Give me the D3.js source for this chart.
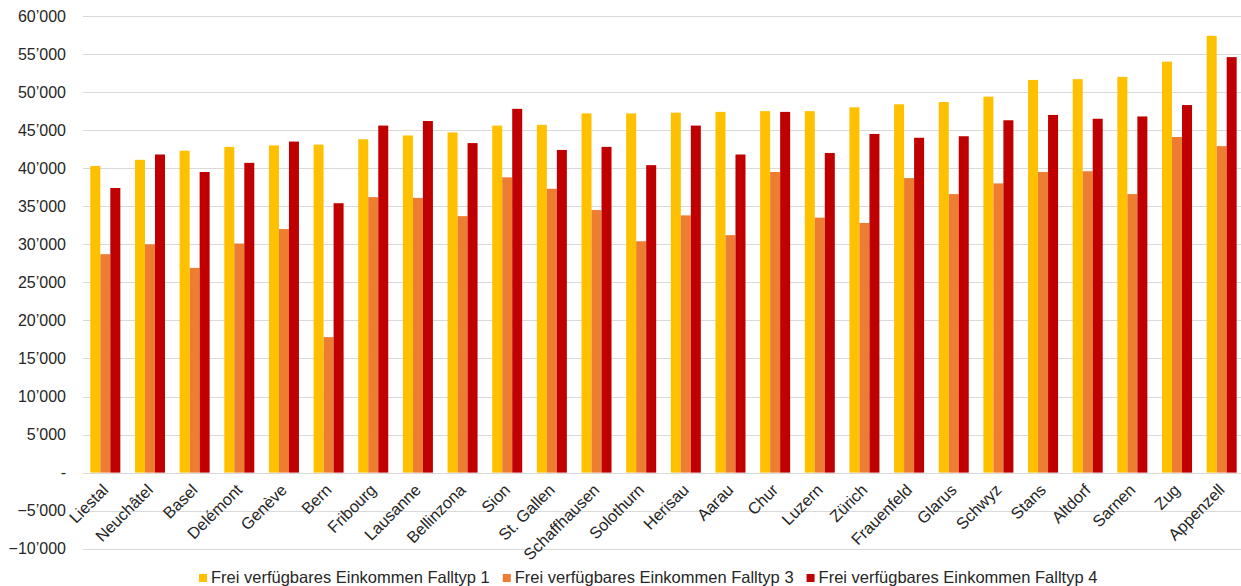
<!DOCTYPE html>
<html><head><meta charset="utf-8">
<script src="https://cdn.jsdelivr.net/npm/d3@7/dist/d3.min.js"></script>
<style>body{margin:0;background:#fff}svg{display:block;font-family:"Liberation Sans",Arial,sans-serif}</style>
</head><body><svg id="c" width="1241" height="586"></svg>
<script>
const categories = ["Liestal","Neuchâtel","Basel","Delémont","Genève","Bern","Fribourg","Lausanne","Bellinzona","Sion","St. Gallen","Schaffhausen","Solothurn","Herisau","Aarau","Chur","Luzern","Zürich","Frauenfeld","Glarus","Schwyz","Stans","Altdorf","Sarnen","Zug","Appenzell"];
const falltyp1 = [40300,41100,42300,42800,43000,43100,43800,44300,44700,45600,45700,47200,47200,47300,47400,47500,47500,48000,48400,48700,49400,51600,51700,52000,54000,57400];
const falltyp3 = [28700,30000,26900,30100,32000,17800,36200,36100,33700,38800,37300,34500,30400,33800,31200,39500,33500,32800,38700,36600,38000,39500,39600,36600,44100,42900];
const falltyp4 = [37400,41800,39500,40700,43500,35400,45600,46200,43300,47800,42400,42800,40400,45600,41800,47400,42000,44500,44000,44200,46300,47000,46500,46800,48300,54600];
const seriesNames = ["Frei verfügbares Einkommen Falltyp 1","Frei verfügbares Einkommen Falltyp 3","Frei verfügbares Einkommen Falltyp 4"];
const colors = ["#FFC000","#ED7D31","#C00000"];
const yTicks = [-10000,-5000,0,5000,10000,15000,20000,25000,30000,35000,40000,45000,50000,55000,60000];

const svg = d3.select("#c");
const series = [falltyp1, falltyp3, falltyp4];
const x = d3.scaleBand().domain(categories).range([83, 1244]).paddingInner(0.328).paddingOuter(0.164);
const xs = d3.scaleBand().domain(d3.range(3)).range([0, x.bandwidth()]);
const y = d3.scaleLinear().domain([-10000, 60000]).range([548.7, 16]);

const fmt = v => v === 0 ? "-" : d3.format(",")(v).replace(/,/g, "’");

// grid
svg.append("g").selectAll("line").data(yTicks).join("line")
  .attr("x1", 83).attr("x2", 1241)
  .attr("y1", d => Math.round(y(d)) + 0.5).attr("y2", d => Math.round(y(d)) + 0.5)
  .attr("stroke", "#d9d9d9").attr("stroke-width", 1);

// y labels
svg.append("g").selectAll("text").data(yTicks).join("text")
  .attr("x", 66).attr("y", d => y(d)).attr("dy", "0.35em")
  .attr("text-anchor", "end").attr("font-size", 16).attr("fill", "#262626")
  .text(fmt);

// bars
series.forEach((s, i) => {
  svg.append("g").selectAll("rect").data(s).join("rect")
    .attr("x", (d, j) => x(categories[j]) + xs(i))
    .attr("width", xs.bandwidth())
    .attr("y", d => y(Math.max(0, d)))
    .attr("height", d => Math.abs(y(d) - y(0)))
    .attr("fill", colors[i]);
});

// x labels
svg.append("g").selectAll("text").data(categories).join("text")
  .attr("transform", d => `translate(${x(d) + x.bandwidth() / 2 + 4},${491}) rotate(-45)`)
  .attr("text-anchor", "end").attr("font-size", 16.3).attr("fill", "#262626")
  .text(d => d);

// legend
const lg = svg.append("g");
let lx = 199;
seriesNames.forEach((n, i) => {
  lg.append("rect").attr("x", lx).attr("y", 574).attr("width", 8).attr("height", 8).attr("fill", colors[i]);
  const t = lg.append("text").attr("x", lx + 12).attr("y", 583).attr("font-size", 16.5).attr("fill", "#262626").text(n);
  lx += 12 + t.node().getComputedTextLength() + 13;
});
</script></body></html>
